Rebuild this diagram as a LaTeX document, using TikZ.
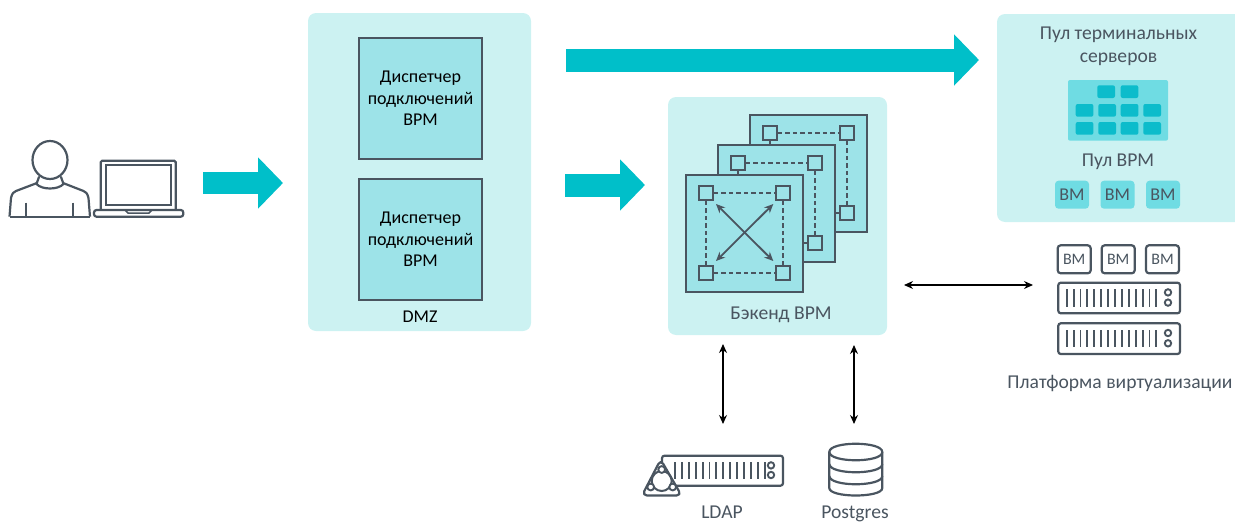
\documentclass[tikz,border=0pt]{standalone}
\usepackage{fontspec}
\setmainfont{Carlito}
\usetikzlibrary{arrows.meta}
\definecolor{panel}{HTML}{CCF2F2}
\definecolor{tile}{HTML}{9DE3E8}
\definecolor{mid}{HTML}{6FDCE3}
\definecolor{teal}{HTML}{00BFC9}
\definecolor{cell}{HTML}{0CBCCB}
\definecolor{ink}{HTML}{4A5560}
\tikzset{
  panelbox/.style={fill=panel,rounded corners=8pt,draw=none},
  dark/.style={draw=ink,line width=2.2pt},
  sheet/.style={dark,fill=tile,line join=miter},
  port/.style={dark,fill=tile,minimum size=14pt,inner sep=0pt},
  link/.style={draw=ink,line width=2pt,dash pattern=on 4.5pt off 3pt},
  flow/.style={draw=teal,-{Triangle[length=25pt,width=50pt]}},
  both/.style={draw=black,line width=1.2pt,{Stealth[length=9pt,width=8pt]}-{Stealth[length=9pt,width=8pt]}},
  lbl/.style={text=ink,font=\fontsize{19.6}{22.5}\selectfont,align=center,inner sep=0pt},
  blk/.style={text=black,font=\fontsize{18}{21.5}\selectfont,align=center,inner sep=0pt},
  vmfill/.style={fill=mid,rounded corners=3.5pt,draw=none,text=ink,font=\fontsize{18}{20}\selectfont,inner sep=0pt},
  vmline/.style={dark,fill=white,rounded corners=3pt,text=ink,font=\fontsize{16}{18}\selectfont,inner sep=0pt},
  minicell/.style={fill=cell,rounded corners=2pt,draw=none}
}
\newcommand{\rackbox}[5]{% x1,y1,x2,y2, tick start
  \draw[dark,rounded corners=2.5pt] (#1,#2) rectangle (#3,#4);
  \foreach \t in {0,...,13}{\draw[draw=ink,line width=1.9pt] ({#5+\t*6.9},{#2+6.7}) -- ({#5+\t*6.9},{#4-6.7});}
  \draw[draw=ink,line width=1.9pt] ({#3-12},{#2+9.7}) circle (3.2pt);
  \draw[draw=ink,line width=1.9pt] ({#3-12},{#4-10.7}) circle (3.2pt);
}
\begin{document}
\begin{tikzpicture}[x=1pt,y=-1pt]
\useasboundingbox (0,0) rectangle (1235,522);
% panels
\fill[panelbox] (308,13) rectangle (531,331);
\fill[panelbox] (668,97) rectangle (887,335);
\fill[panelbox] (997,14) rectangle (1243,222);
\clip (0,0) rectangle (1235,522);
% person
\draw[dark,line join=round] (50,160) ellipse (17.5pt and 19pt);
\draw[dark,line join=round,line cap=round] (39,177) -- (36.5,184) .. controls (42,190) and (58,190) .. (63.5,184) -- (61,177);
\draw[dark,line join=round] (9.5,216.7) -- (11,198) .. controls (12,193) and (14,192) .. (16,191) -- (37,183);
\draw[dark,line join=round] (90,216.7) -- (88.5,198) .. controls (87.5,193) and (85.5,192) .. (83.5,191) -- (63,183);
\draw[dark] (9.5,216.7) -- (90,216.7);
\draw[dark] (26,202.5) -- (26,216.7);
\draw[dark] (72.7,202.5) -- (72.7,216.7);
% laptop
\draw[dark,rounded corners=1.5pt] (100.7,210) -- (100.7,160.7) -- (175.7,160.7) -- (175.7,210);
\draw[dark] (105.7,165.3) rectangle (170.7,205);
\draw[dark,rounded corners=2.5pt] (94,210) rectangle (183.3,216.7);
\draw[draw=ink,line width=1.5pt] (125,210) -- (128,213) -- (149,213) -- (152,210);
% flow arrows
\coordinate (userOut) at (203,183);
\coordinate (dmzIn) at (283,183);
\coordinate (dmzOut) at (565,185);
\coordinate (backIn) at (645,185);
\coordinate (dmzTop) at (566,60);
\coordinate (poolIn) at (979,60);
\draw[flow,line width=22pt] (userOut) -- (dmzIn);
\draw[flow,line width=23pt] (dmzOut) -- (backIn);
\draw[flow,line width=23pt] (dmzTop) -- (poolIn);
% DMZ
\node[sheet,draw=ink,line width=1.3pt,minimum width=123pt,minimum height=121pt,inner sep=0pt,blk] (uag1) at (420.5,98.5) {Диспетчер\\подключений\\ВРМ};
\node[sheet,draw=ink,line width=1.3pt,minimum width=123pt,minimum height=121pt,inner sep=0pt,blk] (uag2) at (420.5,239.5) {Диспетчер\\подключений\\ВРМ};
\node[blk] (dmz) at (420,317) {DMZ};
% backend stack: back layer
\node[sheet,minimum width=117pt,minimum height=117pt,inner sep=0pt] (s3) at (808.5,173.5) {};
\draw[dark] (835,213.3) -- (847.3,213.3);
\node[port] (c1) at (769.7,132.7) {};
\node[port] (c2) at (847.3,132.7) {};
\node[port] (c3) at (847.3,213.3) {};
\draw[link] (c1) -- (c2);
\draw[link] (c2) -- (c3);
% middle layer
\draw[dark] (c1.south) -- ++(0,8);
\node[sheet,minimum width=117pt,minimum height=117pt,inner sep=0pt] (s2) at (776.5,203.5) {};
\draw[dark] (803,243.3) -- (815.3,243.3);
\node[port] (b1) at (737.7,162.7) {};
\node[port] (b2) at (815.3,162.7) {};
\node[port] (b3) at (815.3,243.3) {};
\draw[link] (b1) -- (b2);
\draw[link] (b2) -- (b3);
% front layer
\draw[dark] (b1.south) -- ++(0,8);
\node[sheet,minimum width=117pt,minimum height=117pt,inner sep=0pt] (s1) at (744.5,233.5) {};
\node[port] (a1) at (705.7,192.7) {};
\node[port] (a2) at (783.3,192.7) {};
\node[port] (a3) at (705.7,273.3) {};
\node[port] (a4) at (783.3,273.3) {};
\draw[link] (a1) -- (a2);
\draw[link] (a2) -- (a4);
\draw[link] (a1) -- (a3);
\draw[link] (a3) -- (a4);
\coordinate (d1) at (716,204);
\coordinate (d2) at (773.3,261);
\coordinate (d3) at (773.3,204);
\coordinate (d4) at (716,261);
\draw[draw=ink,line width=1.8pt,{Stealth[length=9pt,width=8pt]}-{Stealth[length=9pt,width=8pt]}] (d1) -- (d2);
\draw[draw=ink,line width=1.8pt,{Stealth[length=9pt,width=8pt]}-{Stealth[length=9pt,width=8pt]}] (d3) -- (d4);
\node[lbl] (backlbl) at (781,315) {Бэкенд ВРМ};
% terminal pool
\node[lbl] (tslbl) at (1118.5,46.5) {Пул терминальных\\серверов};
\fill[mid,rounded corners=2pt] (1068,80) rectangle (1168,140.7);
\foreach \x/\w in {1097.3/17.7,1120.7/17.6}{\fill[minicell] (\x,85.3) rectangle ++(\w,12.7);}
\foreach \x in {1075.7,1098.3,1120.7,1143.3}{
  \fill[minicell] (\x,104) rectangle ++(17.7,12.7);
  \fill[minicell] (\x,122) rectangle ++(17.7,12.7);
}
\node[lbl] (poollbl) at (1118,162) {Пул ВРМ};
\node[vmfill,minimum width=34pt,minimum height=28pt] (v1) at (1072,194.7) {ВМ};
\node[vmfill,minimum width=34pt,minimum height=28pt] (v2) at (1117.5,194.7) {ВМ};
\node[vmfill,minimum width=34pt,minimum height=28pt] (v3) at (1163,194.7) {ВМ};
% virtualization platform
\node[vmline,minimum width=33pt,minimum height=28pt] (p1) at (1074.2,259.3) {ВМ};
\node[vmline,minimum width=33pt,minimum height=28pt] (p2) at (1118.2,259.3) {ВМ};
\node[vmline,minimum width=33pt,minimum height=28pt] (p3) at (1162.5,259.3) {ВМ};
\rackbox{1058.3}{282.7}{1180}{313.3}{1066.7}
\rackbox{1058.3}{323.3}{1180}{354}{1066.7}
\node[lbl] (platlbl) at (1120,383) {Платформа виртуализации};
% thin arrows
\coordinate (e1) at (904,285);
\coordinate (e2) at (1033,285);
\coordinate (e3) at (723,344);
\coordinate (e4) at (723,424);
\coordinate (e5) at (854,345);
\coordinate (e6) at (854,424);
\draw[both] (e1) -- (e2);
\draw[both] (e3) -- (e4);
\draw[both] (e5) -- (e6);
% LDAP
\rackbox{662}{455.7}{783}{485.7}{675}
\draw[dark,fill=white,line join=round,rounded corners=5pt] (660.7,459.5) -- (642,495.5) -- (681.5,495.5) -- cycle;
\draw[draw=ink,line width=2pt] (661.7,481) circle (10pt);
\foreach \p in {(661.7,469.5),(650.7,487),(672.7,487)}{\draw[draw=ink,fill=white,line width=1.9pt] \p circle (3.4pt);}
\node[lbl,anchor=base] (ldaplbl) at (722,518.5) {LDAP};
% Postgres
\draw[dark,line join=round] (829.3,452) .. controls (829.3,441) and (882.3,441) .. (882.3,452) -- (882.3,488) .. controls (882.3,498) and (829.3,498) .. (829.3,488) -- cycle;
\draw[dark] (829.3,452) .. controls (829.3,463) and (882.3,463) .. (882.3,452);
\draw[dark] (829.3,464) .. controls (829.3,475) and (882.3,475) .. (882.3,464);
\draw[dark] (829.3,476) .. controls (829.3,487) and (882.3,487) .. (882.3,476);
\node[lbl,anchor=base] (pglbl) at (855,518.5) {Postgres};
\end{tikzpicture}
\end{document}
